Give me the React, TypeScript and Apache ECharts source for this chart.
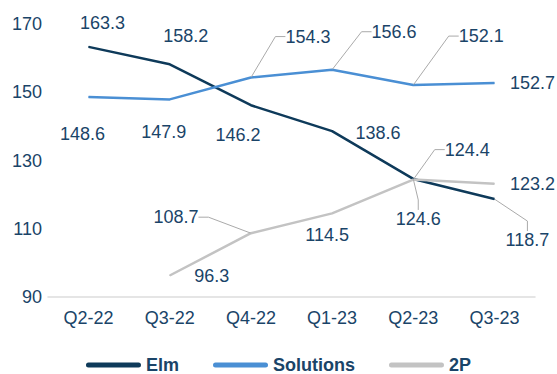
import React, { useEffect, useRef } from "react";
import * as echarts from "echarts";

const categories = ["Q2-22", "Q3-22", "Q4-22", "Q1-23", "Q2-23", "Q3-23"];
const elm = [163.3, 158.2, 146.2, 138.6, 124.6, 118.7];
const solutions = [148.6, 147.9, 154.3, 156.6, 152.1, 152.7];
const twoP = [null, 96.3, 108.7, 114.5, 124.4, 123.2];
const yTicks = { min: 90, max: 170, interval: 20 };

// label offsets (px) from each point, and which labels use leader lines
const elmOffsets = [[14, -24], [16, -28], [-13, 30], [46, 2], [5, 40], [33, 41]];
const solOffsets = [[-6, 37], [-6, 33], [57, -41], [62, -38], [68, -49], [38, 0]];
const twoPOffsets = [null, [42, 0], [-75, -16], [-5, 22], [54, -30], [38, 0]];
const elmLeaders = [4, 5];
const solLeaders = [2, 3, 4];
const twoPLeaders = [2, 4];

const TEXT = "#1a4468";
const FONT = "Liberation Sans, Arial, Helvetica, sans-serif";

function buildData(values: (number | null)[], leaders: number[]) {
  return values.map((v, i) => ({
    value: v,
    labelLine: { show: leaders.includes(i) },
  }));
}

function layoutFor(offsets: (number[] | null)[]) {
  return (p: any) => {
    const o = offsets[p.dataIndex];
    if (!o || !p.rect) return {};
    return {
      x: p.rect.x + p.rect.width / 2 + o[0],
      y: p.rect.y + p.rect.height / 2 + o[1],
      align: "center",
      verticalAlign: "middle",
    };
  };
}

function makeSeries(name: string, values: (number | null)[], color: string, offsets: any, leaders: number[]) {
  return {
    name,
    type: "line",
    data: buildData(values, leaders),
    symbol: "circle",
    symbolSize: 1,
    showSymbol: true,
    itemStyle: { color },
    lineStyle: { color, width: 2.5 },
    label: {
      show: true,
      position: "top",
      color: TEXT,
      fontSize: 18,
      fontFamily: FONT,
    },
    labelLine: {
      show: false,
      length2: 10,
      lineStyle: { color: "#aaaaaa", width: 1 },
    },
    labelLayout: layoutFor(offsets),
    emphasis: { disabled: true },
  };
}

const capsule = "path://M2.5,0 L52.5,0 A2.5,2.5 0 0 1 52.5,5 L2.5,5 A2.5,2.5 0 0 1 2.5,0 Z";

export default function App() {
  const ref = useRef<HTMLDivElement>(null);
  useEffect(() => {
    if (!ref.current) return;
    const chart = echarts.init(ref.current, undefined, { renderer: "svg" });
    chart.setOption({
      animation: false,
      grid: { left: 48, right: 22, top: 24, bottom: 77 },
      xAxis: {
        type: "category",
        data: categories,
        boundaryGap: true,
        axisLine: { show: true, lineStyle: { color: "#dddddd", width: 1.5 } },
        axisTick: { show: false },
        axisLabel: { color: TEXT, fontSize: 18, fontFamily: FONT, margin: 12 },
      },
      yAxis: {
        type: "value",
        min: yTicks.min,
        max: yTicks.max,
        interval: yTicks.interval,
        axisLine: { show: false },
        axisTick: { show: false },
        splitLine: { show: false },
        axisLabel: { color: TEXT, fontSize: 18, fontFamily: FONT, margin: 6 },
      },
      legend: {
        top: 356,
        left: "center",
        padding: 0,
        itemWidth: 55,
        itemHeight: 5,
        itemGap: 34,
        icon: capsule,
        textStyle: { color: TEXT, fontSize: 18, fontWeight: "bold", fontFamily: FONT },
        data: ["Elm", "Solutions", "2P"],
      },
      series: [
        makeSeries("Elm", elm, "#0e3a5a", elmOffsets, elmLeaders),
        makeSeries("Solutions", solutions, "#4a8fd4", solOffsets, solLeaders),
        makeSeries("2P", twoP, "#c3c3c3", twoPOffsets, twoPLeaders),
      ],
    });
    return () => chart.dispose();
  }, []);
  return <div ref={ref} style={{ width: 557, height: 374, position: "absolute", left: 0, top: 0 }} />;
}
